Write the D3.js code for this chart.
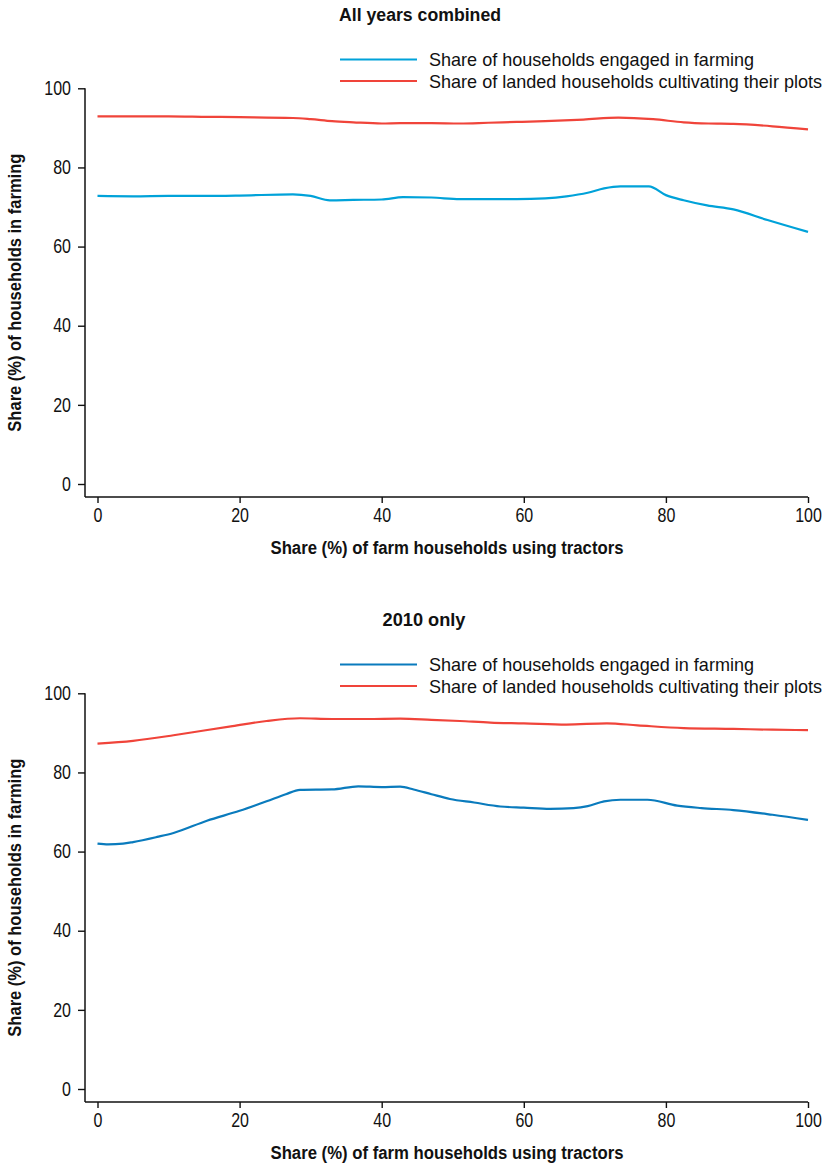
<!DOCTYPE html>
<html>
<head>
<meta charset="utf-8">
<script src="https://cdn.jsdelivr.net/npm/d3@7"></script>
<style>
  body { margin: 0; background: #fff; }
  svg { display: block; }
  text { font-family: "Liberation Sans Narrow", "Arial Narrow", "Liberation Sans", sans-serif; fill: #111; }
</style>
</head>
<body>
<div id="chart"></div>
<script>
const WIDTH = 828;
const HEIGHT = 1166;

// shared x positions (share of farm households using tractors)
const xTicks = [0, 20, 40, 60, 80, 100];
const yTicks = [0, 20, 40, 60, 80, 100];

const seriesNames = [
  "Share of households engaged in farming",
  "Share of landed households cultivating their plots",
];

// panel 1: all years combined
const allX_farm = [0, 5, 10, 15, 20, 27.5, 30, 32.7, 36, 40, 43, 47, 51, 55, 59, 63, 66, 69, 71.3, 73.6, 77.6, 80, 82.5, 85.8, 89.5, 94.3, 100];
const allY_farm = [72.8, 72.7, 72.8, 72.8, 72.9, 73.2, 72.8, 71.7, 71.8, 71.9, 72.5, 72.4, 72.0, 72.0, 72.0, 72.2, 72.7, 73.6, 74.7, 75.2, 75.2, 73.0, 71.7, 70.4, 69.4, 66.7, 63.7];
const allX_plot = [0, 5, 10, 15, 20, 27.5, 30, 33, 36, 40, 42.6, 47, 51, 55, 59, 63, 68.4, 73.3, 78.2, 82.5, 86, 89.5, 95, 100];
const allY_plot = [92.9, 92.9, 92.9, 92.8, 92.7, 92.5, 92.2, 91.7, 91.4, 91.1, 91.2, 91.2, 91.1, 91.3, 91.5, 91.7, 92.1, 92.6, 92.2, 91.4, 91.1, 91.0, 90.4, 89.6];

// panel 2: 2010 only
const y10X_farm = [0, 1.5, 3.6, 5, 8.4, 10.7, 15.4, 20, 23.8, 26.5, 28.5, 33, 36.7, 40, 42.6, 44.5, 47, 49.6, 53, 56.7, 60, 63.7, 67, 69, 71.3, 73.6, 77.4, 81.6, 85, 89.5, 95, 100];
const y10Y_farm = [62.0, 61.8, 62.0, 62.4, 63.7, 64.7, 67.8, 70.3, 72.7, 74.5, 75.6, 75.7, 76.5, 76.3, 76.4, 75.7, 74.5, 73.3, 72.4, 71.4, 71.1, 70.8, 71.0, 71.5, 72.7, 73.1, 73.1, 71.6, 71.0, 70.5, 69.3, 68.0];
const y10X_plot = [0, 5, 10.7, 15, 19, 23.8, 28.5, 33, 37.9, 42.6, 47, 51, 55.3, 60, 66, 71.7, 76, 82.5, 89.5, 95, 100];
const y10Y_plot = [87.3, 88.0, 89.4, 90.6, 91.7, 93.0, 93.7, 93.5, 93.5, 93.6, 93.3, 93.0, 92.6, 92.4, 92.1, 92.4, 91.9, 91.2, 91.0, 90.8, 90.7];

const panelTitles = ["All years combined", "2010 only"];
const farmColors = ["#00a2d9", "#0a7bbd"];
const plotColor = "#f0443a";

const svg = d3.select("#chart")
  .append("svg")
  .attr("width", WIDTH)
  .attr("height", HEIGHT);

const x = d3.scaleLinear().domain([0, 100]).range([97.5, 808]);

// fit text to the width it has in the original
function fit(sel, width) {
  sel.attr("textLength", width).attr("lengthAdjust", "spacingAndGlyphs");
}

// squeeze tick labels a little, like the condensed face of the original
function narrow(sel, ratio) {
  sel.each(function () {
    const len = this.getComputedTextLength();
    d3.select(this)
      .attr("textLength", len * ratio)
      .attr("lengthAdjust", "spacingAndGlyphs");
  });
}

function drawPanel(top, title, titleX, titleW, farmColor, farmX, farmY, plotX, plotY) {
  const g = svg.append("g").attr("transform", `translate(0, ${top})`);
  const y = d3.scaleLinear().domain([0, 100]).range([484, 88.3]);
  const axisY = y(0) + 13;
  const axisX = 85;

  // title
  g.append("text")
    .attr("x", titleX)
    .attr("y", 21)
    .attr("text-anchor", "middle")
    .style("font-size", "18px")
    .style("font-weight", "bold")
    .text(title)
    .call(fit, titleW);

  // legend
  const legend = g.append("g");
  const colors = [farmColor, plotColor];
  const legendW = [325, 393];
  seriesNames.forEach((name, i) => {
    const ly = 59.5 + i * 21.5;
    legend.append("line")
      .attr("x1", 340).attr("x2", 417)
      .attr("y1", ly).attr("y2", ly)
      .style("stroke", colors[i])
      .style("stroke-width", "2.2px");
    legend.append("text")
      .attr("x", 429)
      .attr("y", ly + 6.5)
      .style("font-size", "17.8px")
      .text(name)
      .call(fit, legendW[i]);
  });

  // y axis
  g.append("g")
    .attr("transform", `translate(${axisX}, 0)`)
    .call(d3.axisLeft(y).tickValues(yTicks).tickSize(7).tickPadding(7))
    .call((a) => a.select(".domain").remove())
    .call((a) => a.selectAll("text").style("font-size", "19.5px").style("font-family", null).call(narrow, 0.82))
    .call((a) => a.selectAll("line").style("stroke", "#111").style("stroke-width", "1.4px"));
  g.append("line")
    .attr("x1", axisX).attr("x2", axisX)
    .attr("y1", y(100)).attr("y2", axisY)
    .style("stroke", "#111")
    .style("stroke-width", "1.5px");

  // x axis
  g.append("g")
    .attr("transform", `translate(0, ${axisY})`)
    .call(d3.axisBottom(x).tickValues(xTicks).tickSize(6).tickPadding(5))
    .call((a) => a.select(".domain").remove())
    .call((a) => a.selectAll("text").style("font-size", "19.5px").style("font-family", null).call(narrow, 0.82))
    .call((a) => a.selectAll("line").style("stroke", "#111").style("stroke-width", "1.4px"));
  g.append("line")
    .attr("x1", axisX).attr("x2", x(100))
    .attr("y1", axisY).attr("y2", axisY)
    .style("stroke", "#111")
    .style("stroke-width", "1.5px");

  // axis titles
  g.append("text")
    .attr("x", 447)
    .attr("y", 554)
    .attr("text-anchor", "middle")
    .style("font-size", "18px")
    .style("font-weight", "bold")
    .text("Share (%) of farm households using tractors")
    .call(fit, 353);

  g.append("text")
    .attr("transform", `translate(21, ${(y(100) + axisY) / 2}) rotate(-90)`)
    .attr("text-anchor", "middle")
    .style("font-size", "18px")
    .style("font-weight", "bold")
    .text("Share (%) of households in farming")
    .call(fit, 278);

  // lines
  const line = d3.line()
    .x((d) => x(d[0]))
    .y((d) => y(d[1]))
    .curve(d3.curveMonotoneX);

  g.append("path")
    .datum(plotX.map((v, i) => [v, plotY[i]]))
    .attr("d", line)
    .style("fill", "none")
    .style("stroke", plotColor)
    .style("stroke-width", "2.2px");

  g.append("path")
    .datum(farmX.map((v, i) => [v, farmY[i]]))
    .attr("d", line)
    .style("fill", "none")
    .style("stroke", farmColor)
    .style("stroke-width", "2.2px");
}

drawPanel(0, panelTitles[0], 420, 162, farmColors[0], allX_farm, allY_farm, allX_plot, allY_plot);
drawPanel(605, panelTitles[1], 424, 83, farmColors[1], y10X_farm, y10Y_farm, y10X_plot, y10Y_plot);
</script>
</body>
</html>
